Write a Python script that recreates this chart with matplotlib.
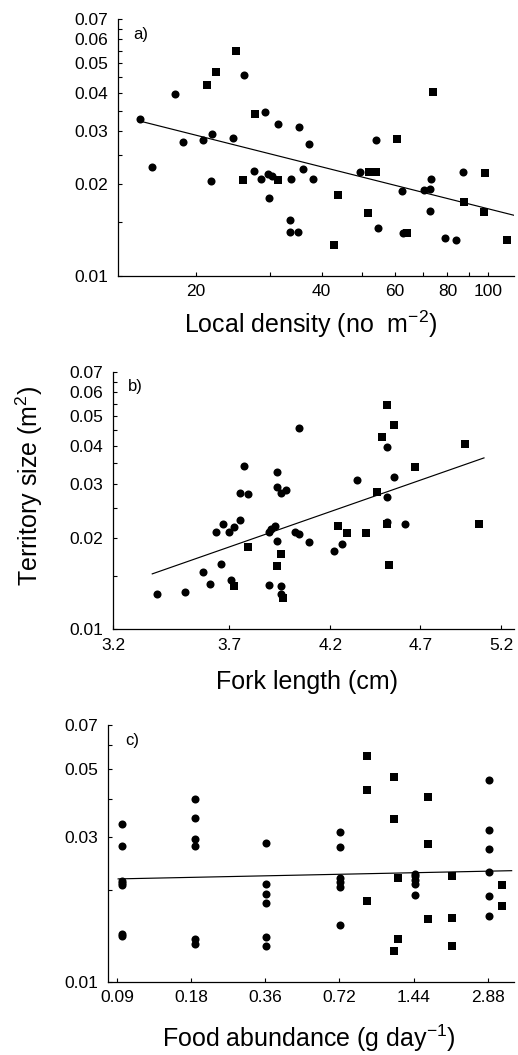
import matplotlib
matplotlib.use("Agg")
import matplotlib.pyplot as plt
from matplotlib.ticker import FixedLocator, FixedFormatter, NullLocator

plt.rcParams['font.family'] = ['Liberation Sans', 'DejaVu Sans']
plt.rcParams['mathtext.fontset'] = 'custom'
plt.rcParams['mathtext.rm'] = 'Liberation Sans'
plt.rcParams['mathtext.it'] = 'Liberation Sans:italic'
plt.rcParams['mathtext.default'] = 'regular'

# ---------------- Panel a: local density ----------------
a_circ_x = [14.7, 15.7, 17.8, 18.6, 20.8, 21.9, 21.7, 24.5, 26.0, 27.6,
            29.2, 28.7, 29.8, 30.4, 29.9, 31.5, 33.7, 33.5, 33.5, 35.1,
            35.3, 36.1, 37.2, 38.2, 49.3, 54.0, 54.7, 62.3, 62.5, 70.3,
            72.5, 73.2, 72.8, 79.1, 84.1, 87.0]
a_circ_y = [0.0328, 0.0228, 0.0397, 0.0276, 0.0279, 0.0292, 0.0205, 0.0285, 0.0457, 0.0221,
            0.0345, 0.0208, 0.0217, 0.0214, 0.0181, 0.0316, 0.0208, 0.0153, 0.0140, 0.0140,
            0.0309, 0.0225, 0.0272, 0.0208, 0.0219, 0.0279, 0.0144, 0.0191, 0.0139, 0.0192,
            0.0193, 0.0208, 0.0163, 0.0133, 0.0131, 0.0220]
a_sq_x = [24.9, 22.3, 21.3, 27.7, 25.9, 31.5, 43.7, 42.7, 51.5, 52.0,
          54.0, 60.5, 64.0, 74.0, 87.6, 98.4, 98.0, 110.9]
a_sq_y = [0.0548, 0.0467, 0.0426, 0.0341, 0.0207, 0.0207, 0.0185, 0.0126, 0.0161, 0.0220,
          0.0220, 0.0283, 0.0139, 0.0402, 0.0175, 0.0218, 0.0162, 0.0131]
a_line_x = [14.7, 115.2]
a_line_y = [0.0323, 0.01585]
a_xticks = [20, 30, 40, 50, 60, 70, 80, 90, 100]
a_xlabels = ['20', '', '40', '', '60', '', '80', '', '100']

# ---------------- Panel b: fork length ----------------
b_circ_x = [3.38, 3.50, 3.58, 3.61, 3.66, 3.64, 3.67, 3.70, 3.72, 3.71,
            3.75, 3.75, 3.79, 3.77, 3.89, 3.90, 3.92, 3.89, 3.93, 3.93,
            3.93, 3.95, 3.97, 3.95, 3.95, 4.04, 4.02, 4.04, 4.09, 4.22,
            4.26, 4.34, 4.51, 4.51, 4.55, 4.51, 4.61]
b_circ_y = [0.0131, 0.0133, 0.0154, 0.0141, 0.0164, 0.0209, 0.0222, 0.0209, 0.0217, 0.0145,
            0.0229, 0.0279, 0.0277, 0.0344, 0.0208, 0.0213, 0.0219, 0.0140, 0.0195, 0.0329,
            0.0293, 0.0279, 0.0286, 0.0139, 0.0131, 0.0457, 0.0209, 0.0206, 0.0193, 0.0181,
            0.0191, 0.0309, 0.0272, 0.0397, 0.0316, 0.0225, 0.0221]
b_sq_x = [4.51, 4.55, 4.48, 4.67, 4.97, 4.45, 4.24, 4.29, 4.39, 4.51,
          4.52, 5.06, 3.79, 3.95, 3.93, 3.72, 3.96]
b_sq_y = [0.0546, 0.0468, 0.0426, 0.0342, 0.0404, 0.0283, 0.0218, 0.0207, 0.0207, 0.0221,
          0.0163, 0.0221, 0.0186, 0.0176, 0.0161, 0.0139, 0.0127]
b_line_x = [3.36, 5.09]
b_line_y = [0.0152, 0.0365]
b_xticks = [3.2, 3.7, 4.2, 4.7, 5.2]
b_xlabels = ['3.2', '3.7', '4.2', '4.7', '5.2']

# ---------------- Panel c: food abundance ----------------
c_circ_x = [0.094, 0.094, 0.094, 0.094, 0.094, 0.094, 0.094,
            0.186, 0.186, 0.186, 0.186, 0.186, 0.186,
            0.363, 0.363, 0.363, 0.363, 0.363, 0.363,
            0.727, 0.727, 0.727, 0.727, 0.727, 0.727,
            1.46, 1.46, 1.46, 1.46, 1.46,
            2.91, 2.91, 2.91, 2.91, 2.91, 2.91]
c_circ_y = [0.0330, 0.0280, 0.0215, 0.0211, 0.0208, 0.0144, 0.0141,
            0.0399, 0.0346, 0.0294, 0.0280, 0.0138, 0.0133,
            0.0287, 0.0209, 0.0194, 0.0181, 0.0140, 0.0131,
            0.0311, 0.0278, 0.0220, 0.0213, 0.0205, 0.0154,
            0.0227, 0.0222, 0.0216, 0.0209, 0.0193,
            0.0461, 0.0317, 0.0274, 0.0230, 0.0192, 0.0164]
c_sq_x = [0.93, 0.93, 0.93, 1.20, 1.20, 1.20, 1.25, 1.25,
          1.64, 1.64, 1.64, 2.06, 2.06, 2.06, 3.29, 3.29]
c_sq_y = [0.0554, 0.0428, 0.0185, 0.0472, 0.0344, 0.01265, 0.0220, 0.0138,
          0.0406, 0.0284, 0.0161, 0.0222, 0.0162, 0.0131, 0.0208, 0.0177]
c_line_x = [0.091, 3.60]
c_line_y = [0.0218, 0.0232]
c_xticks = [0.09, 0.18, 0.36, 0.72, 1.44, 2.88]
c_xlabels = ['0.09', '0.18', '0.36', '0.72', '1.44', '2.88']

y_ticks_ab = [0.01, 0.015, 0.02, 0.025, 0.03, 0.035, 0.04, 0.045, 0.05, 0.055, 0.06, 0.065, 0.07]
y_labels_ab = ['0.01', '', '0.02', '', '0.03', '', '0.04', '', '0.05', '', '0.06', '', '0.07']
y_ticks_c = [0.01, 0.02, 0.03, 0.04, 0.05, 0.06, 0.07]
y_labels_c = ['0.01', '', '0.03', '', '0.05', '', '0.07']

W, H = 518, 1055
fig = plt.figure(figsize=(W / 100, H / 100), dpi=100)


def make_ax(left, right, top, bottom):
    return fig.add_axes([left / W, 1 - bottom / H, (right - left) / W, (bottom - top) / H])


def style(ax, xlim, xticks, xlabels, yticks, ylabels, tag, tagx, tagy):
    ax.set_xscale('log')
    ax.set_yscale('log')
    ax.set_xlim(*xlim)
    ax.set_ylim(0.01, 0.07)
    ax.xaxis.set_major_locator(FixedLocator(xticks))
    ax.xaxis.set_major_formatter(FixedFormatter(xlabels))
    ax.xaxis.set_minor_locator(NullLocator())
    ax.yaxis.set_major_locator(FixedLocator(yticks))
    ax.yaxis.set_major_formatter(FixedFormatter(ylabels))
    ax.yaxis.set_minor_locator(NullLocator())
    for s in ['top', 'right']:
        ax.spines[s].set_visible(False)
    for s in ['left', 'bottom']:
        ax.spines[s].set_linewidth(0.9)
    ax.tick_params(axis='both', direction='in', length=3.2, width=0.8,
                   labelsize=12.5, colors='black')
    ax.tick_params(axis='y', pad=7)
    ax.tick_params(axis='x', pad=6)
    fig.text(tagx / W, 1 - tagy / H, tag, fontsize=12, ha='left', va='center')


def draw(ax, cx, cy, sx, sy, lx, ly):
    ax.plot(cx, cy, 'o', color='black', markersize=5.8, markeredgewidth=0, clip_on=False)
    ax.plot(sx, sy, 's', color='black', markersize=5.2, markeredgewidth=0, clip_on=False)
    ax.plot(lx, ly, '-', color='black', linewidth=0.85)


ax_a = make_ax(118.3, 514, 19, 276)
draw(ax_a, a_circ_x, a_circ_y, a_sq_x, a_sq_y, a_line_x, a_line_y)
style(ax_a, (13.03, 115.5), a_xticks, a_xlabels, y_ticks_ab, y_labels_ab, 'a)', 133, 34)

ax_b = make_ax(113.3, 514, 371.7, 629.3)
draw(ax_b, b_circ_x, b_circ_y, b_sq_x, b_sq_y, b_line_x, b_line_y)
style(ax_b, (3.2, 5.285), b_xticks, b_xlabels, y_ticks_ab, y_labels_ab, 'b)', 128, 386)

ax_c = make_ax(108.3, 514, 725, 981.7)
draw(ax_c, c_circ_x, c_circ_y, c_sq_x, c_sq_y, c_line_x, c_line_y)
style(ax_c, (0.083, 3.68), c_xticks, c_xlabels, y_ticks_c, y_labels_c, 'c)', 125, 740)

# axis titles
fig.text(311 / W, 1 - 333 / H, 'Local density (no  m$^{-2}$)', fontsize=18,
         ha='center', va='baseline')
fig.text(307.5 / W, 1 - 688.5 / H, 'Fork length (cm)', fontsize=18,
         ha='center', va='baseline')
fig.text(309 / W, 1 - 1047.5 / H, 'Food abundance (g day$^{-1}$)', fontsize=18,
         ha='center', va='baseline')
fig.text(29 / W, 1 - 486 / H, 'Territory size (m$^{2}$)', fontsize=18,
         ha='center', va='center', rotation=90)

fig.savefig('out.png', dpi=100)
